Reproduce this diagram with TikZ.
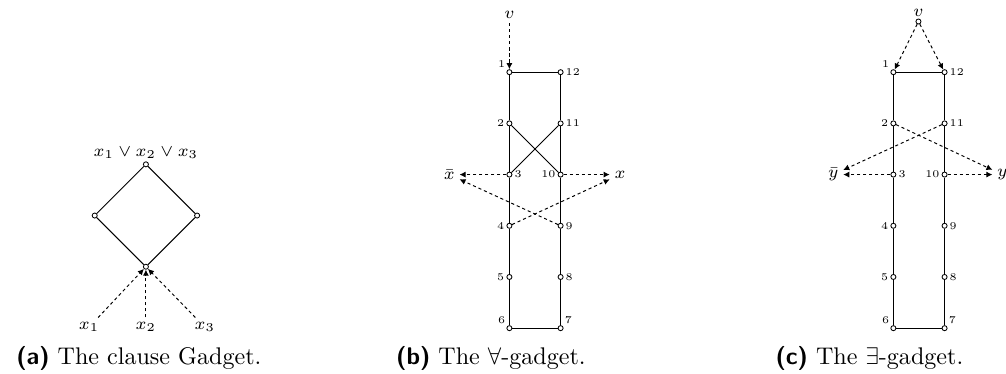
\documentclass[tikz,border=0pt]{standalone}
\usepackage{amsmath}
\usepackage{amssymb}
\usetikzlibrary{arrows.meta}

\begin{document}
\begin{tikzpicture}[
  x=0.747cm, y=0.747cm,
  vtx/.style={circle, draw, fill=white, inner sep=0pt, minimum size=2.1pt, line width=0.35pt},
  num/.style={font=\fontsize{4.3}{4.3}\selectfont, inner sep=0.7pt},
  lit/.style={font=\fontsize{7}{8}\selectfont, inner sep=1.8pt},
  edge/.style={line width=0.4pt},
  arrow/.style={-{Latex[length=2.5pt, width=2.5pt]}, dash pattern=on 1.3pt off 1.2pt, line width=0.4pt},
  capt/.style={anchor=base west, font=\fontsize{10}{12}\selectfont, inner sep=0pt}
]
  \useasboundingbox (0,0) rectangle (19.65,-7.305);

  % (a) clause gadget
  \node[vtx, label={[lit, inner sep=0.8pt]above:$x_1 \vee x_2 \vee x_3$}] (cl_top) at (2.85,-3.21) {};
  \node[vtx] (cl_l)   at (1.85,-4.21) {};
  \node[vtx] (cl_r)   at (3.85,-4.21) {};
  \node[vtx] (cl_bot) at (2.85,-5.21) {};
  \node[lit] (x1) at (1.74,-6.39) {$x_1$};
  \node[lit] (x2) at (2.85,-6.39) {$x_2$};
  \node[lit] (x3) at (4.00,-6.39) {$x_3$};

  \draw[edge] (cl_top) -- (cl_l) -- (cl_bot) -- (cl_r) -- (cl_top);
  \draw[arrow] (x1) -- (cl_bot);
  \draw[arrow] (x2) -- (cl_bot);
  \draw[arrow] (x3) -- (cl_bot);

  % (b) forall gadget
  \node[vtx, label={[num]above left:1}]  (fa1)  at (9.95,-1.41) {};
  \node[vtx, label={[num]left:2}]        (fa2)  at (9.95,-2.41) {};
  \node[vtx, label={[num]right:3}]       (fa3)  at (9.95,-3.41) {};
  \node[vtx, label={[num]left:4}]        (fa4)  at (9.95,-4.41) {};
  \node[vtx, label={[num]left:5}]        (fa5)  at (9.95,-5.41) {};
  \node[vtx, label={[num]above left:6}]  (fa6)  at (9.95,-6.41) {};
  \node[vtx, label={[num]above right:7}] (fa7)  at (10.95,-6.41) {};
  \node[vtx, label={[num]right:8}]       (fa8)  at (10.95,-5.41) {};
  \node[vtx, label={[num]right:9}]       (fa9)  at (10.95,-4.41) {};
  \node[vtx, label={[num]left:10}]       (fa10) at (10.95,-3.41) {};
  \node[vtx, label={[num]right:11}]      (fa11) at (10.95,-2.41) {};
  \node[vtx, label={[num]right:12}]      (fa12) at (10.95,-1.41) {};
  \node[lit] (fa_v)    at (9.95,-0.29)  {$v$};
  \node[lit] (fa_xbar) at (8.775,-3.41) {$\bar{x}$};
  \node[lit] (fa_x)    at (12.11,-3.41) {$x$};

  \draw[edge] (fa1) -- (fa2) -- (fa3) -- (fa4) -- (fa5) -- (fa6) -- (fa7)
              -- (fa8) -- (fa9) -- (fa10) -- (fa11) -- (fa12) -- (fa1);
  \draw[edge] (fa2) -- (fa10);
  \draw[edge] (fa11) -- (fa3);
  \draw[arrow] (fa_v) -- (fa1);
  \draw[arrow] (fa3) -- (fa_xbar);
  \draw[arrow] (fa9) -- (fa_xbar);
  \draw[arrow] (fa10) -- (fa_x);
  \draw[arrow] (fa4) -- (fa_x);

  % (c) exists gadget
  \node[vtx, label={[num]above left:1}]  (ex1)  at (17.45,-1.41) {};
  \node[vtx, label={[num]left:2}]        (ex2)  at (17.45,-2.41) {};
  \node[vtx, label={[num]right:3}]       (ex3)  at (17.45,-3.41) {};
  \node[vtx, label={[num]left:4}]        (ex4)  at (17.45,-4.41) {};
  \node[vtx, label={[num]left:5}]        (ex5)  at (17.45,-5.41) {};
  \node[vtx, label={[num]above left:6}]  (ex6)  at (17.45,-6.41) {};
  \node[vtx, label={[num]above right:7}] (ex7)  at (18.45,-6.41) {};
  \node[vtx, label={[num]right:8}]       (ex8)  at (18.45,-5.41) {};
  \node[vtx, label={[num]right:9}]       (ex9)  at (18.45,-4.41) {};
  \node[vtx, label={[num]left:10}]       (ex10) at (18.45,-3.41) {};
  \node[vtx, label={[num]right:11}]      (ex11) at (18.45,-2.41) {};
  \node[vtx, label={[num]right:12}]      (ex12) at (18.45,-1.41) {};
  \node[vtx, label={[lit, inner sep=0.8pt]above:$v$}] (ex_v) at (17.94,-0.42) {};
  \node[lit] (ex_ybar) at (16.275,-3.41) {$\bar{y}$};
  \node[lit] (ex_y)    at (19.58,-3.41)  {$y$};

  \draw[edge] (ex1) -- (ex2) -- (ex3) -- (ex4) -- (ex5) -- (ex6) -- (ex7)
              -- (ex8) -- (ex9) -- (ex10) -- (ex11) -- (ex12) -- (ex1);
  \draw[arrow] (ex_v) -- (ex1);
  \draw[arrow] (ex_v) -- (ex12);
  \draw[arrow] (ex3) -- (ex_ybar);
  \draw[arrow] (ex11) -- (ex_ybar);
  \draw[arrow] (ex10) -- (ex_y);
  \draw[arrow] (ex2) -- (ex_y);

  % captions
  \node[capt] (cap_a) at (0.31,-7.11)  {{\sffamily\bfseries (a)} The clause Gadget.};
  \node[capt] (cap_b) at (7.73,-7.11)  {{\sffamily\bfseries (b)} The $\forall$-gadget.};
  \node[capt] (cap_c) at (15.14,-7.11) {{\sffamily\bfseries (c)} The $\exists$-gadget.};
\end{tikzpicture}
\end{document}
